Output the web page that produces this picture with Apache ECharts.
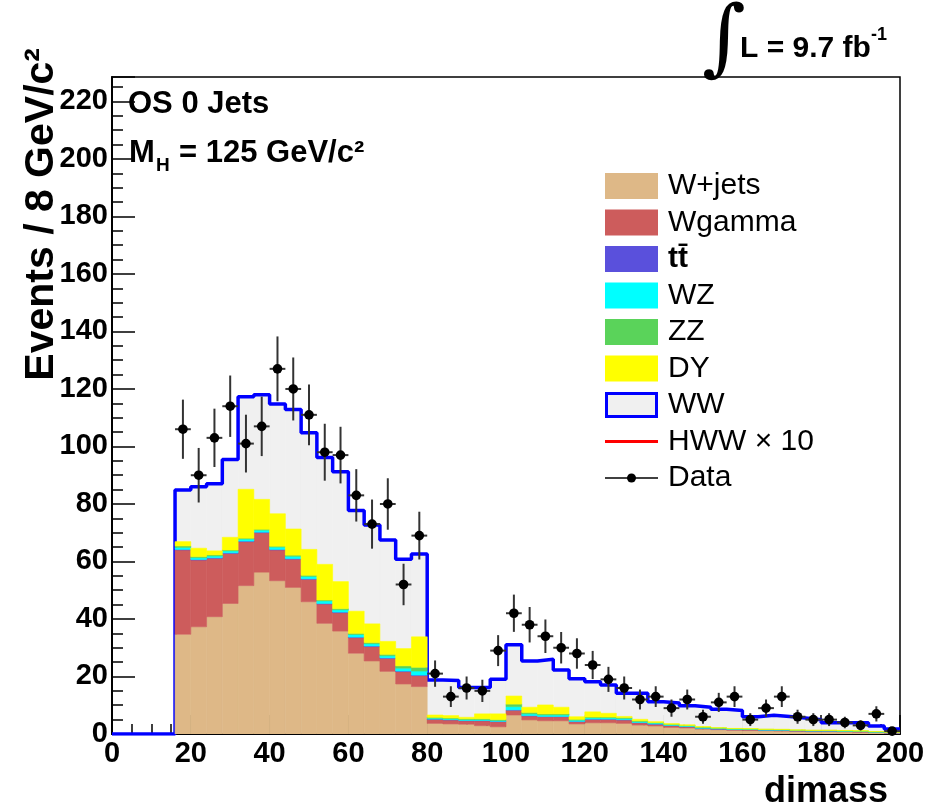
<!DOCTYPE html>
<html><head><meta charset="utf-8">
<script src="https://cdn.jsdelivr.net/npm/echarts@6/dist/echarts.min.js"></script>
<style>html,body{margin:0;padding:0;background:#fff}#c{width:928px;height:811px}</style>
</head><body><div id="c"></div>
<script>
// ---- data (bin left edges, width 4 GeV) ----
const binLeft = [0,4,8,12,16,20,24,28,32,36,40,44,48,52,56,60,64,68,72,76,80,84,88,92,96,100,104,108,112,116,120,124,128,132,136,140,144,148,152,156,160,164,168,172,176,180,184,188,192,196];
const binWidth = 4;
const wjets = [0,0,0,0, 34.7,37.3,40.8,45.4,51.6,56.3,53.3,51.0,46.0,38.5,35.8,28.1,25.4,21.8,17.4,16.5,
  3.7,3.5,3.4,2.9,2.5,6.6,4.9,4.6,4.6,3.5,3.9,3.9,3.7,3.1,2.8,2.3,2.1,1.7,1.5,1.3,1.2,1.1,1.0,0.9,0.8,0.8,0.7,0.6,0.5,0.3];
const wgamma = [0,0,0,0, 29.3,23.2,20.3,17.4,15.3,13.7,10.7,9.8,7.8,6.7,6.4,5.4,5.0,4.5,4.3,3.8,
  1.4,1.4,1.2,1.7,1.8,1.7,1.4,1.4,1.4,0.8,1.2,1.2,1.2,0.8,0.6,0.6,0.4,0.2,0.2,0.2,0.3,0.2,0.3,0.2,0.2,0.2,0.2,0.2,0.1,0.1];
const ttbar = [0,0,0,0, 0.2,0.2,0.2,0.2,0.2,0.2,0.2,0.2,0.2,0.2,0.2,0.2,0.2,0.2,0.2,0.2,
  0.1,0.1,0.1,0.1,0.1,0.1,0.1,0.1,0.1,0.1,0.1,0.1,0.1,0.1,0.1,0.1,0.1,0.1,0.1,0.1,0.05,0.05,0.05,0.05,0.05,0.05,0.05,0.05,0.05,0.05];
const wz = [0,0,0,0, 0.7,0.6,0.6,0.7,0.7,0.7,0.8,0.8,0.8,0.9,0.8,0.9,0.8,0.7,1.0,1.4,
  0.3,0.3,0.3,0.3,0.3,1.1,0.6,0.5,0.5,0.4,0.4,0.4,0.4,0.3,0.3,0.2,0.2,0.2,0.2,0.15,0.15,0.15,0.1,0.1,0.1,0.1,0.1,0.1,0.1,0.1];
const zz = [0,0,0,0, 0.5,0.4,0.4,0.3,0.3,0.3,0.3,0.4,0.4,0.3,0.4,0.4,0.4,0.5,0.8,1.3,
  0.3,0.3,0.3,0.3,0.3,0.9,0.5,0.4,0.4,0.3,0.3,0.3,0.3,0.3,0.2,0.2,0.2,0.2,0.1,0.1,0.1,0.1,0.1,0.1,0.1,0.1,0.1,0.1,0.05,0.05];
const dy = [0,0,0,0, 1.5,2.9,1.4,4.4,17.0,10.4,11.3,9.1,9.0,12.4,9.4,7.7,6.5,4.5,6.0,10.6,
  0.8,0.8,0.5,1.7,2.0,2.8,1.8,3.1,2.3,0.9,1.8,1.3,0.4,0.5,0.3,0.2,0.2,0.2,0.1,0.1,0.1,0.1,0.1,0.1,0.1,0.1,0.1,0.1,0.05,0.05];
const ww = [0,0,0,0, 18.0,21.4,23.3,27.1,32.2,36.4,38.2,41.6,40.6,37.2,38.2,35.0,34.4,35.3,31.1,28.8,
  12.2,12.2,10.4,9.2,12.0,17.8,16.1,15.9,13.0,13.2,10.5,9.8,8.1,9.1,6.9,7.2,6.6,6.7,6.4,6.2,4.1,4.8,4.4,4.1,3.6,2.6,2.7,2.8,1.9,1.1];
const dataX = [18,22,26,30,34,38,42,46,50,54,58,62,66,70,74,78,82,86,90,94,98,102,106,110,114,118,122,126,130,134,138,142,146,150,154,158,162,166,170,174,178,182,186,190,194,198];
const dataN = [106,90,103,114,101,107,127,120,111,98,97,83,73,80,52,69,21,13,16,15,29,42,38,34,30,28,24,19,16,12,13,9,12,6,11,13,5,9,13,6,5,5,4,3,7,1];
const yTicks = [0,20,40,60,80,100,120,140,160,180,200,220];

const comps = [
  {name:'W+jets', vals:wjets, color:'#deb887'},
  {name:'Wgamma', vals:wgamma, color:'#cd5c5c'},
  {name:'tt', vals:ttbar, color:'#5a50dc'},
  {name:'WZ', vals:wz, color:'#00ffff'},
  {name:'ZZ', vals:zz, color:'#5ad35a'},
  {name:'DY', vals:dy, color:'#ffff00'},
  {name:'WW', vals:ww, color:'#f0f0f0'}
];

const FONT = '"Liberation Sans", Arial, Helvetica, sans-serif';
const series = [];
const base = binLeft.map(() => 0);
comps.forEach((c, k) => {
  const items = binLeft.map((x, i) => {
    const b = base[i], t = b + c.vals[i];
    base[i] = t;
    return [x, x + binWidth, b, t];
  });
  series.push({
    type: 'custom', name: c.name, z: k === 6 ? 1 : 3,
    clip: true,
    encode: {x: [0, 1], y: [2, 3]},
    data: items,
    renderItem: (params, api) => {
      const b = api.value(2), t = api.value(3);
      if (t - b <= 0) return null;
      const p0 = api.coord([api.value(0), t]);
      const p1 = api.coord([api.value(1), b]);
      return {type: 'rect', shape: {x: p0[0], y: p0[1], width: p1[0] - p0[0], height: p1[1] - p0[1]},
        style: {fill: c.color, stroke: c.color, lineWidth: 0.6}};
    }
  });
});
// total (WW outline) as step line
const outline = binLeft.map((x, i) => [x, base[i]]);
outline.push([binLeft[binLeft.length - 1] + binWidth, base[base.length - 1]]);
series.push({type: 'line', name: 'WWline', step: 'end', data: outline, symbol: 'none', z: 2,
  lineStyle: {color: '#0000ff', width: 3.5}, clip: true});
// data points with Poisson errors
series.push({
  type: 'custom', name: 'Data', z: 10,
  encode: {x: 0, y: 1},
  data: dataX.map((x, i) => [x, dataN[i]]),
  renderItem: (params, api) => {
    const x = api.value(0), n = api.value(1), e = Math.sqrt(n);
    const c = api.coord([x, n]);
    const lo = api.coord([x, n - e]), hi = api.coord([x, n + e]);
    const l = api.coord([x - binWidth / 2, n]), r = api.coord([x + binWidth / 2, n]);
    return {type: 'group', children: [
      {type: 'line', shape: {x1: c[0], y1: lo[1], x2: c[0], y2: hi[1]}, style: {stroke: '#333', lineWidth: 2}},
      {type: 'line', shape: {x1: l[0], y1: c[1], x2: r[0], y2: c[1]}, style: {stroke: '#333', lineWidth: 2}},
      {type: 'circle', shape: {cx: c[0], cy: c[1], r: 4.8}, style: {fill: '#000'}}
    ]};
  }
});

// legend (drawn as graphics)
const legendItems = [
  {label: 'W+jets', kind: 'box', color: '#deb887'},
  {label: 'Wgamma', kind: 'box', color: '#cd5c5c'},
  {label: 'tt\u0304', kind: 'box', color: '#5a50dc', bold: true},
  {label: 'WZ', kind: 'box', color: '#00ffff'},
  {label: 'ZZ', kind: 'box', color: '#5ad35a'},
  {label: 'DY', kind: 'box', color: '#ffff00'},
  {label: 'WW', kind: 'ww'},
  {label: 'HWW \u00d7 10', kind: 'line', color: '#ff0000'},
  {label: 'Data', kind: 'data'}
];
const graphics = [];
legendItems.forEach((it, i) => {
  const cy = 186 + i * 36.5;
  if (it.kind === 'box') graphics.push({type: 'rect', shape: {x: 605, y: cy - 13, width: 53, height: 26}, style: {fill: it.color}});
  if (it.kind === 'ww') graphics.push({type: 'rect', shape: {x: 606.5, y: cy - 11.5, width: 50, height: 23}, style: {fill: '#f0f0f0', stroke: '#0000ff', lineWidth: 3}});
  if (it.kind === 'line') graphics.push({type: 'line', shape: {x1: 605, y1: cy, x2: 658, y2: cy}, style: {stroke: it.color, lineWidth: 3}});
  if (it.kind === 'data') {
    graphics.push({type: 'line', shape: {x1: 605, y1: cy, x2: 658, y2: cy}, style: {stroke: '#000', lineWidth: 1.5}});
    graphics.push({type: 'circle', shape: {cx: 631.5, cy: cy, r: 4.5}, style: {fill: '#000'}});
  }
  graphics.push({type: 'text', x: 668, y: cy, style: {text: it.label, font: (it.bold ? 'bold ' : '') + '30px ' + FONT, fill: '#000', textVerticalAlign: 'middle', verticalAlign: 'middle'}});
});
// annotations
graphics.push({type: 'text', x: 128, y: 89, style: {text: 'OS 0 Jets', font: 'bold 31px ' + FONT, fill: '#000'}});
graphics.push({type: 'text', x: 129, y: 138, style: {text: 'M', font: 'bold 31px ' + FONT, fill: '#000'}});
graphics.push({type: 'text', x: 156, y: 156, style: {text: 'H', font: 'bold 19px ' + FONT, fill: '#000'}});
graphics.push({type: 'text', x: 179, y: 138, style: {text: '= 125 GeV/c\u00b2', font: 'bold 31px ' + FONT, fill: '#000'}});
graphics.push({type: 'text', x: 702, y: 1, style: {text: '\u222b', font: '84px "DejaVu Serif", serif', fill: '#000'}});
graphics.push({type: 'text', x: 740, y: 34, style: {text: 'L = 9.7 fb', font: 'bold 30px ' + FONT, fill: '#000'}});
graphics.push({type: 'text', x: 871, y: 26, style: {text: '-1', font: 'bold 18px ' + FONT, fill: '#000'}});
graphics.push({type: 'text', x: 888, y: 774, style: {text: 'dimass', font: 'bold 36px ' + FONT, fill: '#000', textAlign: 'right', align: 'right'}});
graphics.push({type: 'text', x: 42, y: 48, rotation: Math.PI / 2, style: {text: 'Events / 8 GeV/c\u00b2', font: 'bold 41px ' + FONT, fill: '#000', textAlign: 'right', align: 'right', textVerticalAlign: 'middle', verticalAlign: 'middle'}});

const chart = echarts.init(document.getElementById('c'), null, {renderer: 'canvas'});
chart.setOption({
  animation: false,
  backgroundColor: '#fff',
  grid: {left: 112, right: 28, top: 77, bottom: 77, show: true, borderColor: '#000', borderWidth: 1.5, backgroundColor: 'transparent'},
  xAxis: {type: 'value', min: 0, max: 200, interval: 20,
    axisLine: {onZero: false, lineStyle: {color: '#000', width: 2}},
    axisTick: {inside: true, length: 19, lineStyle: {color: '#000', width: 1.5}},
    minorTick: {show: true, splitNumber: 4, length: 10, lineStyle: {color: '#000', width: 1.5}},
    splitLine: {show: false}, minorSplitLine: {show: false},
    axisLabel: {fontSize: 29, fontWeight: 'bold', color: '#000', fontFamily: FONT, margin: 5}
  },
  yAxis: {type: 'value', min: 0, max: 228.5, interval: 20,
    axisLine: {show: true, onZero: false, lineStyle: {color: '#000', width: 2}},
    axisTick: {show: true, inside: true, length: 23, lineStyle: {color: '#000', width: 1.5}},
    minorTick: {show: true, splitNumber: 4, length: 11, lineStyle: {color: '#000', width: 1.5}},
    splitLine: {show: false},
    axisLabel: {fontSize: 29, fontWeight: 'bold', color: '#000', fontFamily: FONT, margin: 4,
      formatter: v => (yTicks.indexOf(v) >= 0 ? String(v) : '')}
  },
  series: series,
  graphic: graphics
});
</script></body></html>
